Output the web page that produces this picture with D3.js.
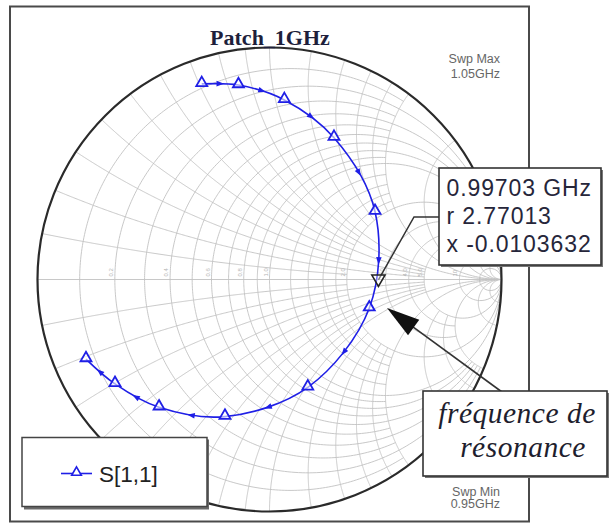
<!DOCTYPE html>
<html>
<head>
<meta charset="utf-8">
<script src="https://cdn.jsdelivr.net/npm/d3@7"></script>
<style>
  body { margin: 0; background: #fff; }
  svg { display: block; }
</style>
</head>
<body>
<div id="chart"></div>
<script>
let freqs = [0.95, 0.96, 0.97, 0.98, 0.99, 1.00, 1.01, 1.02, 1.03, 1.04, 1.05]
let s11Re = [-0.292, -0.134, 0.064, 0.278, 0.455, 0.430, 0.165, -0.192, -0.476, -0.666, -0.791]
let s11Im = [0.843, 0.838, 0.774, 0.611, 0.292, -0.124, -0.465, -0.591, -0.551, -0.450, -0.343]

// marker at resonance
let markerFreq = 0.99703
let markerR = 2.77013
let markerX = -0.0103632
let markerLines = ['0.99703 GHz', 'r 2.77013', 'x -0.0103632']

// smith grid: resistance circles [r, x limit], reactance arcs [x, r limit]
let rCircles = [
  [0.1, 2], [0.2, 5], [0.3, 2], [0.4, 5], [0.5, 2], [0.6, 5], [0.7, 2], [0.8, 5], [0.9, 2], [1.0, Infinity],
  [1.2, 2], [1.4, 2], [1.6, 2], [1.8, 2], [2.0, Infinity],
  [3, 5], [4, 5], [5, Infinity], [10, Infinity], [20, Infinity]
]
let xArcs = [
  [0.1, 2], [0.2, 5], [0.3, 2], [0.4, 5], [0.5, 2], [0.6, 5], [0.7, 2], [0.8, 5], [0.9, 2], [1.0, Infinity],
  [1.2, 2], [1.4, 2], [1.6, 2], [1.8, 2], [2.0, Infinity],
  [3, 5], [4, 5], [5, Infinity], [10, Infinity], [20, Infinity]
]
let rLabels = ['0.2', '0.4', '0.6', '0.8', '1.0', '2.0', '3.0', '4.0', '5.0', '10']

let title = 'Patch_1GHz'
let swpMax = ['Swp Max', '1.05GHz']
let swpMin = ['Swp Min', '0.95GHz']
let legendName = 'S[1,1]'
let noteLines = ['fréquence de', 'résonance']

let width = 610, height = 525
let cx = 269.5, cy = 279.5, R = 232

let svg = d3.select('#chart').append('svg')
  .attr('width', width)
  .attr('height', height)

let gx = d3.scaleLinear().domain([-1, 1]).range([cx - R, cx + R])
let gy = d3.scaleLinear().domain([-1, 1]).range([cy + R, cy - R])

// z -> gamma
function gamma(r, x) {
  let d = (r + 1) * (r + 1) + x * x
  return [(r * r + x * x - 1) / d, 2 * x / d]
}

let line = d3.line().x(d => gx(d[0])).y(d => gy(d[1]))

// frame
svg.append('rect')
  .attr('x', 10).attr('y', 6.5)
  .attr('width', 519).attr('height', 515)
  .attr('fill', '#fff')
  .attr('stroke', '#4a4a4a')
  .attr('stroke-width', 2)

/** GRID **/
let grid = svg.append('g').attr('class', 'grid')
  .attr('fill', 'none')
  .attr('stroke', '#c2c2c2')
  .attr('stroke-width', 0.9)

rCircles.forEach(([r, xMax]) => {
  let uMax = Math.atan(xMax)
  let pts = d3.range(0, 301).map(i => {
    let u = -uMax + 2 * uMax * i / 300
    return gamma(r, Math.tan(u))
  })
  grid.append('path').attr('d', line(pts))
})

xArcs.forEach(([x, rMax]) => {
  let tMax = isFinite(rMax) ? rMax / (1 + rMax) : 0.99999
  ;[x, -x].forEach(xx => {
    let pts = d3.range(0, 301).map(i => {
      let t = tMax * i / 300
      return gamma(t / (1 - t), xx)
    })
    grid.append('path').attr('d', line(pts))
  })
})

// real axis
grid.append('line')
  .attr('x1', gx(-1)).attr('x2', gx(1))
  .attr('y1', gy(0)).attr('y2', gy(0))

// small resistance labels along the axis
svg.append('g').selectAll('text')
  .data(rLabels)
  .join('text')
  .attr('transform', d => {
    let p = gamma(+d, 0)
    return 'translate(' + (gx(p[0]) - 2) + ',' + (gy(0) - 3) + ') rotate(-90)'
  })
  .attr('font-family', 'Liberation Sans, Arial, sans-serif')
  .attr('font-size', 6)
  .attr('fill', '#b4b4b4')
  .text(d => d)

// outer circle
svg.append('circle')
  .attr('cx', gx(0)).attr('cy', gy(0))
  .attr('r', gx(1) - gx(0))
  .attr('fill', 'none')
  .attr('stroke', '#2a2a2a')
  .attr('stroke-width', 2.2)

/** TRACE **/
let pts = freqs.map((f, i) => [s11Re[i], s11Im[i]])
let blue = '#1f1fe6'

let trace = svg.append('path')
  .attr('d', d3.line().x(d => gx(d[0])).y(d => gy(d[1])).curve(d3.curveCatmullRom)(pts))
  .attr('fill', 'none')
  .attr('stroke', blue)
  .attr('stroke-width', 1.6)

// direction arrows half way between sweep points
let node = trace.node()
let total = node.getTotalLength()
let samples = d3.range(0, 1001).map(i => {
  let s = total * i / 1000
  let p = node.getPointAtLength(s)
  return { s: s, x: p.x, y: p.y }
})
let atPts = pts.map(p => {
  let px = gx(p[0]), py = gy(p[1])
  return d3.least(samples, d => (d.x - px) ** 2 + (d.y - py) ** 2).s
})
for (let i = 0; i < atPts.length - 1; i++) {
  let s = (atPts[i] + atPts[i + 1]) / 2
  let a = node.getPointAtLength(s - 1), b = node.getPointAtLength(s + 1)
  let m = node.getPointAtLength(s)
  let ang = Math.atan2(b.y - a.y, b.x - a.x) * 180 / Math.PI
  svg.append('path')
    .attr('d', 'M4,0 L-3.5,-2.8 L-3.5,2.8 Z')
    .attr('transform', 'translate(' + m.x + ',' + m.y + ') rotate(' + ang + ')')
    .attr('fill', blue)
}

// sweep point symbols
svg.append('g').selectAll('path')
  .data(pts)
  .join('path')
  .attr('d', d3.symbol(d3.symbolTriangle).size(52))
  .attr('transform', d => 'translate(' + gx(d[0]) + ',' + (gy(d[1]) - 1) + ')')
  .attr('fill', '#fff')
  .attr('fill-opacity', 0.6)
  .attr('stroke', blue)
  .attr('stroke-width', 1.8)

// marker
let mg = gamma(markerR, markerX)
let mx = gx(mg[0]), my = gy(mg[1])

svg.append('polyline')
  .attr('points', [[mx, my], [414, 217], [439, 217]].map(p => p.join(',')).join(' '))
  .attr('fill', 'none')
  .attr('stroke', '#333')
  .attr('stroke-width', 1.5)

svg.append('path')
  .attr('d', d3.symbol(d3.symbolTriangle).size(75))
  .attr('transform', 'translate(' + mx + ',' + (my - 1) + ') rotate(180)')
  .attr('fill', '#fff')
  .attr('fill-opacity', 0.4)
  .attr('stroke', '#222')
  .attr('stroke-width', 1.6)

// sweep labels
let swp = svg.append('g')
  .attr('font-family', 'Liberation Sans, Arial, sans-serif')
  .attr('font-size', 12.5)
  .attr('fill', '#666')
  .attr('text-anchor', 'end')
swp.selectAll('.max').data(swpMax).join('text').attr('class', 'max')
  .attr('x', 500).attr('y', (d, i) => 62.5 + i * 15).text(d => d)
swp.selectAll('.min').data(swpMin).join('text').attr('class', 'min')
  .attr('x', 500).attr('y', (d, i) => 495.5 + i * 12.8).text(d => d)

// title
svg.append('text')
  .attr('x', 270).attr('y', 45)
  .attr('text-anchor', 'middle')
  .attr('font-family', 'Liberation Serif, Times New Roman, serif')
  .attr('font-weight', 'bold')
  .attr('font-size', 22)
  .attr('fill', '#1e1f3c')
  .text(title)

/** LEGEND **/
let lg = svg.append('g')
lg.append('rect')
  .attr('x', 24).attr('y', 439.5).attr('width', 185).attr('height', 70)
  .attr('fill', '#6a6a6a')
lg.append('rect')
  .attr('x', 22).attr('y', 437.5).attr('width', 185).attr('height', 69)
  .attr('fill', '#fff')
  .attr('stroke', '#444')
  .attr('stroke-width', 1.5)
lg.append('line')
  .attr('x1', 61).attr('x2', 92).attr('y1', 473.5).attr('y2', 473.5)
  .attr('stroke', blue).attr('stroke-width', 1.6)
lg.append('path')
  .attr('d', d3.symbol(d3.symbolTriangle).size(40))
  .attr('transform', 'translate(76.5,472.5)')
  .attr('fill', '#fff').attr('stroke', blue).attr('stroke-width', 1.6)
lg.append('text')
  .attr('x', 99).attr('y', 482)
  .attr('font-family', 'Liberation Sans, Arial, sans-serif')
  .attr('font-size', 22.5)
  .attr('fill', '#222')
  .text(legendName)

/** MARKER BOX **/
let mb = svg.append('g')
mb.append('rect')
  .attr('x', 441).attr('y', 170).attr('width', 162).attr('height', 97)
  .attr('fill', '#777')
mb.append('rect')
  .attr('x', 439).attr('y', 168).attr('width', 162).attr('height', 97)
  .attr('fill', '#fff')
  .attr('stroke', '#333')
  .attr('stroke-width', 1.6)
mb.selectAll('text')
  .data(markerLines)
  .join('text')
  .attr('x', 446.5)
  .attr('y', (d, i) => 196 + i * 28.2)
  .attr('font-family', 'Liberation Sans, Arial, sans-serif')
  .attr('font-size', 23)
  .attr('letter-spacing', 0.9)
  .attr('fill', '#26263a')
  .text(d => d)

/** NOTE + ARROW **/
let tip = [387, 308], tail = [502, 392]
let ang = Math.atan2(tip[1] - tail[1], tip[0] - tail[0])
svg.append('line')
  .attr('x1', tail[0]).attr('y1', tail[1])
  .attr('x2', tip[0] + 30 * Math.cos(ang + Math.PI)).attr('y2', tip[1] + 30 * Math.sin(ang + Math.PI))
  .attr('stroke', '#333').attr('stroke-width', 1.6)
svg.append('path')
  .attr('d', 'M0,0 L-33,-9.5 L-33,9.5 Z')
  .attr('transform', 'translate(' + tip[0] + ',' + tip[1] + ') rotate(' + (ang * 180 / Math.PI) + ')')
  .attr('fill', '#111')

let nb = svg.append('g')
nb.append('rect')
  .attr('x', 425).attr('y', 393).attr('width', 184).attr('height', 85)
  .attr('fill', '#777')
nb.append('rect')
  .attr('x', 423).attr('y', 391).attr('width', 184).attr('height', 85)
  .attr('fill', '#fff')
  .attr('stroke', '#333')
  .attr('stroke-width', 1.6)
nb.selectAll('text')
  .data(noteLines)
  .join('text')
  .attr('x', (d, i) => i === 0 ? 517 : 523)
  .attr('y', (d, i) => 423 + i * 34)
  .attr('text-anchor', 'middle')
  .attr('font-family', 'Liberation Serif, Times New Roman, serif')
  .attr('font-style', 'italic')
  .attr('font-size', 29.5)
  .attr('letter-spacing', 0.5)
  .attr('fill', '#1e1e2e')
  .text(d => d)
</script>
</body>
</html>
